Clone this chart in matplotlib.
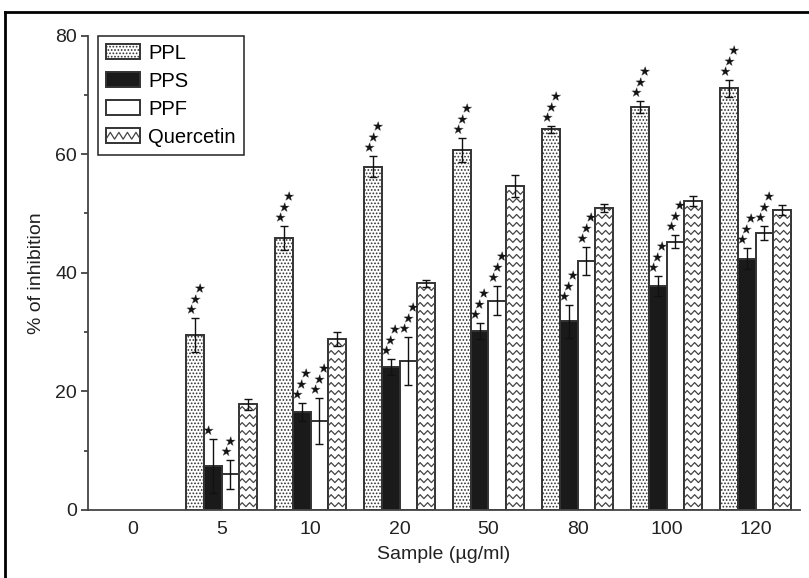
import numpy as np
import matplotlib
matplotlib.use('Agg')
import matplotlib.pyplot as plt
from matplotlib.patches import Rectangle
from matplotlib.lines import Line2D
from matplotlib.legend_handler import HandlerBase

plt.rcParams['font.family'] = ['Liberation Sans', 'DejaVu Sans']

# data (0 µg/ml has no bars)
doses = ['0', '5', '10', '20', '50', '80', '100', '120']
ppl = [np.nan, 29.5, 45.8, 57.9, 60.7, 64.2, 68.0, 71.1]
ppl_err = [np.nan, 2.8, 2.0, 1.7, 2.0, 0.6, 1.0, 1.4]
pps = [np.nan, 7.4, 16.5, 24.1, 30.2, 31.8, 37.7, 42.4]
pps_err = [np.nan, 4.6, 1.5, 1.3, 1.4, 2.8, 1.7, 1.8]
ppf = [np.nan, 6.0, 15.0, 25.1, 35.3, 42.0, 45.2, 46.7]
ppf_err = [np.nan, 2.5, 3.9, 4.0, 2.4, 2.4, 1.1, 1.1]
quer = [np.nan, 17.8, 28.8, 38.2, 54.6, 50.9, 52.1, 50.6]
quer_err = [np.nan, 0.9, 1.2, 0.6, 1.8, 0.7, 0.8, 0.9]
ppl_sig = ['', '***', '***', '***', '***', '***', '***', '***']
pps_sig = ['', '*', '***', '***', '***', '***', '***', '***']
ppf_sig = ['', '**', '***', '***', '***', '***', '***', '***']

EDGE = '#333333'
ZIG = '#444444'


def zigzag(x0, x1, y, half_period, amp):
    n = int(np.ceil((x1 - x0) / half_period)) + 1
    zx = x0 + np.arange(n) * half_period
    zy = y + amp * np.where(np.arange(n) % 2 == 0, -1, 1)
    return zx, zy


class ZigzagHandler(HandlerBase):
    def create_artists(self, legend, orig_handle, xdescent, ydescent, width, height, fontsize, trans):
        rect = Rectangle((-xdescent, -ydescent), width, height, facecolor='white',
                         edgecolor=EDGE, linewidth=1.4, transform=trans)
        zx, zy = zigzag(-xdescent, -xdescent + width, -ydescent + height / 2, width / 8, height * 0.22)
        line = Line2D(zx, zy, color=ZIG, lw=0.9, transform=trans)
        line.set_clip_path(rect)
        return [rect, line]


fig = plt.figure(figsize=(8.09, 5.78), dpi=100)
ax = fig.add_axes([88 / 809, 1 - 510 / 578, 712 / 809, 474.5 / 578])

plt.rcParams['hatch.color'] = '#666666'
plt.rcParams['hatch.linewidth'] = 0.8

x = np.arange(len(doses))
w = 0.2
series = [
    ('PPL', ppl, ppl_err, ppl_sig, dict(facecolor='white', hatch='.....')),
    ('PPS', pps, pps_err, pps_sig, dict(facecolor='#1a1a1a')),
    ('PPF', ppf, ppf_err, ppf_sig, dict(facecolor='white')),
    ('Quercetin', quer, quer_err, None, dict(facecolor='white')),
]

bar_sets = {}
for i, (name, vals, errs, sig, style) in enumerate(series):
    xs = x + (i - 1.5) * w
    bars = ax.bar(xs, vals, w, edgecolor=EDGE, linewidth=1.4, label=name, zorder=2, **style)
    bar_sets[name] = bars
    ax.errorbar(xs, vals, yerr=errs, fmt='none', ecolor='#111111', elinewidth=1,
                capsize=3, capthick=1, zorder=4)
    if sig is not None:
        for xi, v, e, s in zip(xs, vals, errs, sig):
            if s:
                ax.annotate(s.replace('*', '\u2605'), xy=(xi, v + e), xytext=(-3.8, 2.4),
                            textcoords='offset points', rotation=68, rotation_mode='anchor',
                            ha='left', va='center', fontsize=9.5, family='DejaVu Sans',
                            color='#111111', zorder=5)

# zigzag texture for the Quercetin bars
for patch in bar_sets['Quercetin'].patches:
    h = patch.get_height()
    if not np.isfinite(h):
        continue
    x0, bw = patch.get_x(), patch.get_width()
    for row in np.arange(0.9, h, 1.35):
        zx, zy = zigzag(x0 - 0.01, x0 + bw + 0.01, row, 0.042, 0.33)
        ln, = ax.plot(zx, zy, color=ZIG, lw=0.9, zorder=3)
        ln.set_clip_path(patch)

ax.set_xlim(-0.5, 7.5)
ax.set_ylim(0, 80)
ax.set_xticks(x)
ax.set_xticklabels(doses)
ax.set_yticks([0, 20, 40, 60, 80])
ax.set_yticks([10, 30, 50, 70], minor=True)
ax.tick_params(axis='x', length=0, pad=8, labelsize=14, colors='#222222')
ax.tick_params(axis='y', which='major', direction='out', length=5, width=1.1,
               pad=3, labelsize=14, colors='#222222')
ax.tick_params(axis='y', which='minor', direction='out', length=3, width=1.1, colors='#222222')
for side in ['top', 'right']:
    ax.spines[side].set_visible(False)
for side in ['left', 'bottom']:
    ax.spines[side].set_color('#444444')
    ax.spines[side].set_linewidth(1.3)

ax.set_xlabel('Sample (µg/ml)', fontsize=14, color='#222222')
ax.xaxis.set_label_coords(0.5, -0.075)
ax.set_ylabel('% of inhibition', fontsize=14, color='#222222')
ax.yaxis.set_label_coords(-0.06, 0.5)

leg = ax.legend(loc='upper left', bbox_to_anchor=(0.014, 1.0), borderaxespad=0,
                fontsize=14.5, handlelength=1.7, handleheight=0.8, labelspacing=0.45,
                borderpad=0.4, handletextpad=0.4, fancybox=False, framealpha=1,
                handler_map={bar_sets['Quercetin']: ZigzagHandler()})
leg.get_frame().set_edgecolor('#222222')
leg.get_frame().set_linewidth(1.1)

# outer frame of the picture
fig.add_artist(plt.Line2D([5 / 809, 5 / 809], [0, 1 - 12 / 578], transform=fig.transFigure,
                          color='black', lw=2))
fig.add_artist(plt.Line2D([5 / 809, 1], [1 - 12 / 578, 1 - 12 / 578], transform=fig.transFigure,
                          color='black', lw=2))

fig.savefig('out.png', dpi=100)
